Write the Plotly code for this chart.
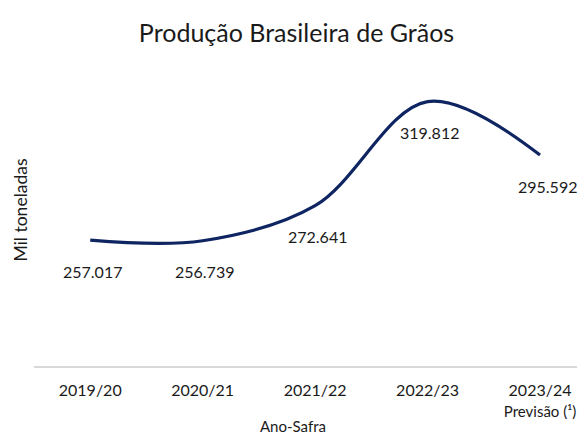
import plotly.graph_objects as go

safras = ["2019/20", "2020/21", "2021/22", "2022/23", "2023/24"]
tick_labels = ["2019/20", "2020/21", "2021/22", "2022/23",
               "2023/24<br><span style='font-size:15px'>Previsão (¹)</span>"]
producao = [257.017, 256.739, 272.641, 319.812, 295.592]
rotulos = ["257.017", "256.739", "272.641", "319.812", "295.592"]

FONT = "Lato, Calibri, Carlito, sans-serif"
x_idx = list(range(len(safras)))

# a pagina tem margem de 8px no body, por isso a figura e 8px menor
W, H = 577, 426

fig = go.Figure()
fig.add_trace(go.Scatter(
    x=x_idx, y=producao, mode="lines",
    line=dict(color="#0e2562", width=3.2, shape="spline", smoothing=1.0),
    hoverinfo="skip", showlegend=False,
))

# rotulos de dados abaixo de cada ponto
for i, (v, t) in enumerate(zip(producao, rotulos)):
    fig.add_annotation(x=i, y=v, text=t, showarrow=False,
                       yshift=-31, xshift=7 if i == len(safras) - 1 else 2,
                       font=dict(size=16, color="#1a1a1a", family=FONT))

fig.add_annotation(text="Mil toneladas", textangle=-90, showarrow=False,
                   xref="paper", yref="paper", x=-0.0245, y=0.505,
                   xanchor="center", yanchor="middle",
                   font=dict(size=17.5, color="#1a1a1a", family=FONT))
fig.add_annotation(text="Ano-Safra", showarrow=False,
                   xref="paper", yref="paper", x=0.47, y=-0.194,
                   xanchor="center", yanchor="middle",
                   font=dict(size=15, color="#1a1a1a", family=FONT))

fig.update_layout(
    width=W, height=H,
    margin=dict(l=26, r=0, t=49, b=68),
    paper_bgcolor="white", plot_bgcolor="white",
    title=dict(text="Produção Brasileira de Grãos", x=0.5, xref="container",
               y=1 - 25 / H, yref="container", yanchor="middle",
               font=dict(size=25, color="#1a1a1a", family=FONT)),
    font=dict(family=FONT, color="#1a1a1a"),
)
fig.update_xaxes(range=[-0.5, 4.4], tickvals=x_idx, ticktext=tick_labels,
                 showgrid=False, zeroline=False,
                 showline=True, linecolor="#d9d9d9", linewidth=1.5,
                 ticks="outside", ticklen=9, tickcolor="rgba(0,0,0,0)",
                 tickfont=dict(size=16, color="#1a1a1a", family=FONT))
fig.update_yaxes(range=[200, 340], showticklabels=False, showgrid=False,
                 zeroline=False, showline=False)

fig.write_html("out.html")
